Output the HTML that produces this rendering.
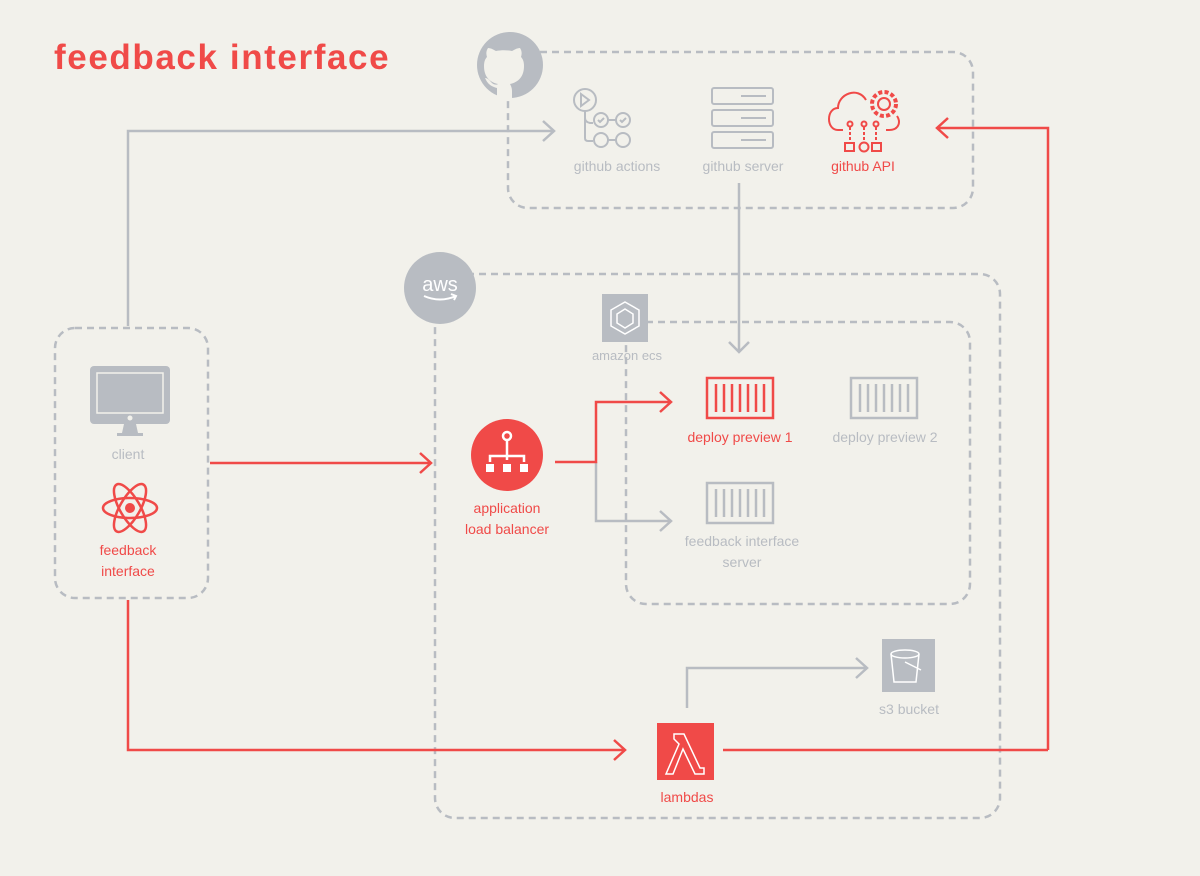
<!DOCTYPE html>
<html><head><meta charset="utf-8"><style>
body{margin:0;background:#f2f1eb}
svg{display:block}
text{font-family:"Liberation Sans",sans-serif;font-size:14px;text-anchor:middle}
.g{fill:#b8bcc2}.r{fill:#f04a48}
</style></head><body>
<svg width="1200" height="876" viewBox="0 0 1200 876">
<rect width="1200" height="876" fill="#f2f1eb"/>
<text x="54" y="69" style="font-size:35px;font-weight:bold;text-anchor:start;letter-spacing:1.6px" class="r">feedback interface</text>
<g fill="none" stroke="#b8bcc2" stroke-width="2.5" stroke-dasharray="7,5">
<rect x="508" y="52" width="465" height="156" rx="20"/>
<rect x="435" y="274" width="565" height="544" rx="20"/>
<rect x="626" y="322" width="344" height="282" rx="20"/>
<rect x="55" y="328" width="153" height="270" rx="20"/>
</g>
<circle cx="510" cy="65" r="33" fill="#b8bcc2"/>
<path d="M497 98 v-10 c-8 -2 -10 -6 -12 -10 c3 0 5 3 7 5 c2 2 5 2 6 1 c-9 -2 -14 -8 -14 -18 c0 -4 1 -7 3 -9 c-1 -3 -1 -6 1 -9 c3 0 6 2 8 3 c5 -1 11 -1 16 0 c2 -1 5 -3 8 -3 c2 3 2 6 1 9 c2 2 3 5 3 9 c0 10 -5 16 -14 18 c1 2 2 4 2 7 v8 z" fill="#f2f1eb"/>
<circle cx="440" cy="288" r="36" fill="#b8bcc2"/>
<text x="440" y="291" style="font-size:20px;fill:#fff">aws</text>
<path d="M424 296 q16 7 32 0 m-5 -2 l5 2 l-2 4" fill="none" stroke="#fff" stroke-width="2"/>
<g fill="none" stroke="#b8bcc2" stroke-width="2.5">
<path d="M128 326 V131 H553 M543 121 l11 10 l-11 10"/>
<path d="M739 183 V352 M729 342 l10 10 l10 -10"/>
<path d="M596 462 V521 H670 M660 511 l11 10 l-11 10"/>
<path d="M687 708 V668 H866 M856 658 l11 10 l-11 10"/>
</g>
<g fill="none" stroke="#f04a48" stroke-width="2.5">
<path d="M1048 750 V128 H938 M948 118 l-11 10 l11 10"/>
<path d="M210 463 H430 M420 453 l11 10 l-11 10"/>
<path d="M555 462 H596 V402 H670 M660 392 l11 10 l-11 10"/>
<path d="M128 600 V750 H624 M614 740 l11 10 l-11 10"/>
<path d="M723 750 H1048"/>
</g>
<g fill="none" stroke="#b8bcc2" stroke-width="2">
<circle cx="585" cy="100" r="11"/><path d="M581 94 l8 6 l-8 6 z"/>
<path d="M585 111 V138 q0 3 3 3 h5 M585 118 q0 4 5 5 h3"/>
<circle cx="601" cy="120" r="7"/><circle cx="623" cy="120" r="7"/>
<circle cx="601" cy="140" r="7"/><circle cx="623" cy="140" r="7"/>
<path d="M608 120h8 M608 140h8 M598 120 l2 2 l4 -4 M620 120 l2 2 l4 -4"/>
</g>
<text x="617" y="171" class="g">github actions</text>
<g fill="none" stroke="#b8bcc2" stroke-width="2">
<rect x="712" y="88" width="61" height="16" rx="2"/><rect x="712" y="110" width="61" height="16" rx="2"/><rect x="712" y="132" width="61" height="16" rx="2"/>
<path d="M741 96h25 M741 118h25 M741 140h25"/>
</g>
<text x="743" y="171" class="g">github server</text>
<g fill="none" stroke="#f04a48" stroke-width="2">
<path d="M843 130 h-5 c-12 0 -12 -22 0 -22 c0 -14 20 -22 28 -8 M897 116 c4 6 2 14 -8 14 h-3"/>
<circle cx="884" cy="104" r="6"/><circle cx="884" cy="104" r="12" stroke-dasharray="4,2.3" stroke-width="4"/>
<circle cx="850" cy="124" r="2.5"/><circle cx="864" cy="124" r="2.5"/><circle cx="876" cy="124" r="2.5"/>
<path d="M850 127v14 M864 127v14 M876 127v14" stroke-dasharray="3,2"/>
<rect x="845" y="143" width="9" height="8"/><circle cx="864" cy="147" r="4.5"/><rect x="872" y="143" width="9" height="8"/>
</g>
<text x="863" y="171" class="r">github API</text>
<rect x="602" y="294" width="46" height="48" fill="#b8bcc2"/>
<path d="M625 302 l14 8 v16 l-14 8 l-14 -8 v-16 z M625 309 l8 5 v9 l-8 5 l-8 -5 v-9 z" fill="none" stroke="#fff" stroke-width="1.5"/>
<text x="627" y="360" class="g" style="font-size:13px">amazon ecs</text>
<g fill="none" stroke-width="2.5">
<rect x="707" y="378" width="66" height="40" stroke="#f04a48"/>
<path d="M716 384v28 M724 384v28 M732 384v28 M740 384v28 M748 384v28 M756 384v28 M764 384v28" stroke="#f04a48"/>
<rect x="851" y="378" width="66" height="40" stroke="#b8bcc2"/>
<path d="M860 384v28 M868 384v28 M876 384v28 M884 384v28 M892 384v28 M900 384v28 M908 384v28" stroke="#b8bcc2"/>
<rect x="707" y="483" width="66" height="40" stroke="#b8bcc2"/>
<path d="M716 489v28 M724 489v28 M732 489v28 M740 489v28 M748 489v28 M756 489v28 M764 489v28" stroke="#b8bcc2"/>
</g>
<text x="740" y="442" class="r">deploy preview 1</text>
<text x="885" y="442" class="g">deploy preview 2</text>
<text x="742" y="546" class="g">feedback interface</text>
<text x="742" y="567" class="g">server</text>
<circle cx="507" cy="455" r="36" fill="#f04a48"/>
<g fill="none" stroke="#fff" stroke-width="2.5">
<circle cx="507" cy="436" r="4"/><path d="M507 440v20 M490 462v-6h34v6"/>
</g>
<g fill="#fff"><rect x="486" y="464" width="8" height="8"/><rect x="503" y="464" width="8" height="8"/><rect x="520" y="464" width="8" height="8"/></g>
<text x="507" y="513" class="r">application</text>
<text x="507" y="534" class="r">load balancer</text>
<rect x="90" y="366" width="80" height="58" rx="4" fill="#b8bcc2"/>
<rect x="97" y="373" width="66" height="40" fill="#b8bcc2" stroke="#f2f1eb" stroke-width="1.5"/>
<circle cx="130" cy="418" r="2.5" fill="#f2f1eb"/>
<path d="M124 424 h12 l2 9 h5 v3 h-26 v-3 h5 z" fill="#b8bcc2"/>
<text x="128" y="459" class="g">client</text>
<g fill="none" stroke="#f04a48" stroke-width="2.5">
<ellipse cx="130" cy="508" rx="27" ry="10"/>
<ellipse cx="130" cy="508" rx="27" ry="10" transform="rotate(60 130 508)"/>
<ellipse cx="130" cy="508" rx="27" ry="10" transform="rotate(-60 130 508)"/>
</g>
<circle cx="130" cy="508" r="5" fill="#f04a48"/>
<text x="128" y="555" class="r">feedback</text>
<text x="128" y="576" class="r">interface</text>
<rect x="882" y="639" width="53" height="53" fill="#b8bcc2"/>
<g fill="none" stroke="#fff" stroke-width="1.5">
<ellipse cx="905" cy="654" rx="14" ry="4"/><path d="M891 654 l3 28 h22 l3 -28 M905 662 l16 8"/>
</g>
<text x="909" y="714" class="g">s3 bucket</text>
<rect x="657" y="723" width="57" height="57" fill="#f04a48"/>
<path d="M674 734 h10 l16 34 h4 v6 h-9 l-12 -25 l-10 25 h-7 l13 -30 l-5 -5 z" fill="none" stroke="#fff" stroke-width="1.5"/>
<text x="687" y="802" class="r">lambdas</text>
</svg>
</body></html>
